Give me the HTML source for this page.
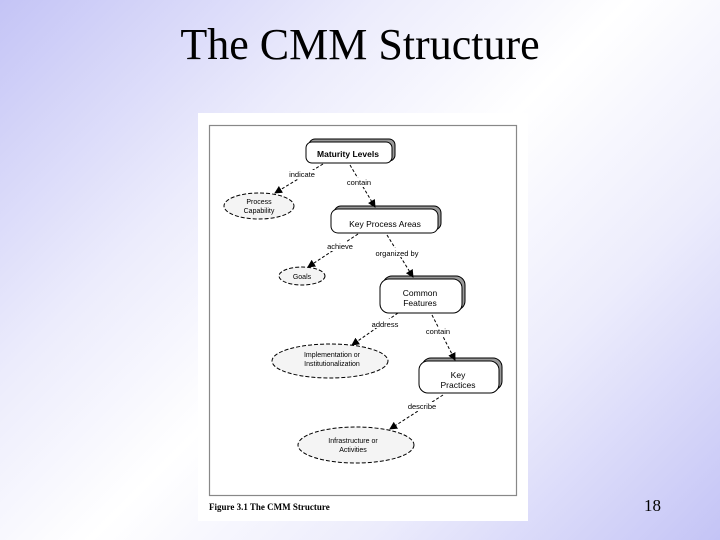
<!DOCTYPE html>
<html><head><meta charset="utf-8"><style>
html,body{margin:0;padding:0}
body{width:720px;height:540px;overflow:hidden;position:relative;background:linear-gradient(135deg,#c4c4f6 0%,#ececfc 30%,#ffffff 50%,#ececfc 72%,#c4c4f6 100%);font-family:"Liberation Serif",serif}
.title{position:absolute;left:0;width:720px;top:19px;text-align:center;font-size:44px;color:#000}
.num{position:absolute;left:644px;top:496px;font-size:17px}
svg{position:absolute;left:0;top:0}
</style></head><body>
<div class="title">The CMM Structure</div>
<svg width="720" height="540" viewBox="0 0 720 540" font-family="Liberation Sans, sans-serif" font-size="8">
<defs><marker id="a" markerWidth="8" markerHeight="8" refX="7" refY="4" orient="auto" markerUnits="userSpaceOnUse"><path d="M0,0 L8,4 L0,8z" fill="#000"/></marker></defs>
<rect x="198" y="113" width="330" height="408" fill="#fff"/>
<rect x="209.5" y="125.5" width="307" height="370" fill="none" stroke="#888" stroke-width="1.2"/>
<text x="209" y="510" font-family="Liberation Serif, serif" font-weight="bold" font-size="9">Figure 3.1  The CMM Structure</text>
<g stroke="#000" stroke-width="1">
<rect x="309" y="139" width="86" height="22" rx="6" fill="#999"/>
<rect x="306" y="142" width="86" height="21" rx="6" fill="#fff"/>
<rect x="334" y="206" width="107" height="24" rx="7" fill="#999"/>
<rect x="331" y="209" width="107" height="24" rx="7" fill="#fff"/>
<rect x="383" y="276" width="82" height="34" rx="9" fill="#999"/>
<rect x="380" y="279" width="82" height="34" rx="9" fill="#fff"/>
<rect x="422" y="358" width="80" height="32" rx="9" fill="#999"/>
<rect x="419" y="361" width="80" height="32" rx="9" fill="#fff"/>
</g>
<g fill="#f4f4f4" stroke="#000" stroke-dasharray="4,2">
<ellipse cx="259" cy="206" rx="35" ry="13"/>
<ellipse cx="302" cy="276" rx="23" ry="9"/>
<ellipse cx="330" cy="361" rx="58" ry="17"/>
<ellipse cx="356" cy="445" rx="58" ry="18"/>
</g>
<g stroke="#000" stroke-dasharray="3,2" marker-end="url(#a)">
<line x1="323" y1="164" x2="275" y2="193"/>
<line x1="350" y1="165" x2="375" y2="207"/>
<line x1="358" y1="234" x2="308" y2="267"/>
<line x1="387" y1="235" x2="413" y2="277"/>
<line x1="398" y1="313" x2="352" y2="345"/>
<line x1="432" y1="315" x2="455" y2="360"/>
<line x1="443" y1="395" x2="390" y2="429"/>
</g>
<g text-anchor="middle" fill="#000">
<text x="348" y="157" font-weight="bold" font-size="8.5">Maturity Levels</text>
<text x="385" y="227" font-size="8.5">Key Process Areas</text>
<text x="420" y="296" font-size="8.5">Common</text>
<text x="420" y="306" font-size="8.5">Features</text>
<text x="458" y="378" font-size="8.5">Key</text>
<text x="458" y="388" font-size="8.5">Practices</text>
<text x="259" y="204" font-size="7">Process</text>
<text x="259" y="213" font-size="7">Capability</text>
<text x="302" y="279" font-size="7">Goals</text>
<text x="332" y="357" font-size="7">Implementation or</text>
<text x="332" y="366" font-size="7">Institutionalization</text>
<text x="353" y="443" font-size="7">Infrastructure or</text>
<text x="353" y="452" font-size="7">Activities</text>
<g font-size="7.5">
<rect x="288" y="170" width="28" height="9" fill="#fff"/>
<text x="302" y="177">indicate</text>
<rect x="346" y="178" width="26" height="9" fill="#fff"/>
<text x="359" y="185">contain</text>
<rect x="326" y="242" width="28" height="9" fill="#fff"/>
<text x="340" y="249">achieve</text>
<rect x="375" y="248" width="44" height="9" fill="#fff"/>
<text x="397" y="256">organized by</text>
<rect x="371" y="319" width="28" height="9" fill="#fff"/>
<text x="385" y="327">address</text>
<rect x="425" y="327" width="26" height="9" fill="#fff"/>
<text x="438" y="334">contain</text>
<rect x="408" y="402" width="28" height="9" fill="#fff"/>
<text x="422" y="409">describe</text>
</g>
</g>
</svg>
<div class="num">18</div>
</body></html>
